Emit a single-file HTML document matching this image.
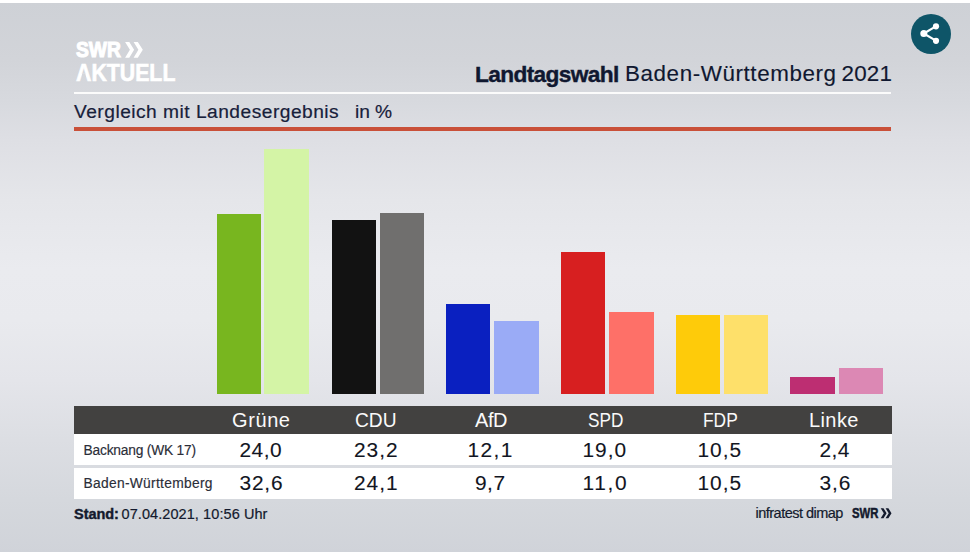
<!DOCTYPE html>
<html><head><meta charset="utf-8">
<style>
*{margin:0;padding:0;box-sizing:border-box}
html,body{width:970px;height:557px;overflow:hidden;background:#fff}
body{position:relative;font-family:"Liberation Sans",sans-serif}
#bg{position:absolute;left:0;top:3px;width:970px;height:549px;
background:linear-gradient(180deg,rgb(206,209,214) 0.0%,rgb(210,212,217) 10.4%,rgb(215,217,222) 17.7%,rgb(222,223,228) 25.0%,rgb(229,230,234) 35.9%,rgb(234,235,239) 48.6%,rgb(233,234,238) 57.7%,rgb(228,229,234) 68.7%,rgb(220,222,227) 79.6%,rgb(213,216,221) 90.5%,rgb(208,211,217) 100.0%)}
.t{position:absolute;white-space:nowrap}
.b,.r{position:absolute}
#wline{left:74px;top:92px;width:817px;height:2px;background:#fbfbfb}
#rline{left:74px;top:127px;width:817px;height:4px;background:#c95039}
#thead{left:74px;top:406px;width:818px;height:28px;background:#424140}
#row1{left:74px;top:434px;width:818px;height:31px;background:#fff}
#row2{left:74px;top:468px;width:818px;height:30.5px;background:#fff}
#share{position:absolute;left:911px;top:14px;width:40px;height:40px;border-radius:50%;background:#0e5568}
</style></head><body>
<div id="bg"></div>
<div class="r" id="wline"></div>
<div class="r" id="rline"></div>
<div class="b" style="left:216.6px;top:213.5px;width:44.6px;height:180.5px;background:#78b61f"></div>
<div class="b" style="left:264.4px;top:149px;width:44.8px;height:245px;background:#d4f4a6"></div>
<div class="b" style="left:331.8px;top:220px;width:43.9px;height:174px;background:#121212"></div>
<div class="b" style="left:380.2px;top:213.3px;width:43.7px;height:180.7px;background:#706f6e"></div>
<div class="b" style="left:445.9px;top:303.5px;width:44.5px;height:90.5px;background:#0a20c0"></div>
<div class="b" style="left:494.4px;top:321.3px;width:44.5px;height:72.7px;background:#9aabf6"></div>
<div class="b" style="left:560.8px;top:251.5px;width:44.5px;height:142.5px;background:#d71f20"></div>
<div class="b" style="left:609.3px;top:311.8px;width:44.5px;height:82.2px;background:#fe7068"></div>
<div class="b" style="left:675.7px;top:315.4px;width:44.3px;height:78.6px;background:#fecb0a"></div>
<div class="b" style="left:724.3px;top:315.4px;width:43.9px;height:78.6px;background:#fee06a"></div>
<div class="b" style="left:790px;top:376.6px;width:44.6px;height:17.4px;background:#bd2e72"></div>
<div class="b" style="left:838.6px;top:368.1px;width:44.1px;height:25.9px;background:#dc88b4"></div>
<div class="r" id="thead"></div>
<div class="r" id="row1"></div>
<div class="r" id="row2"></div>
<svg class="r" id="chev" style="left:0;top:0" width="970" height="557" viewBox="0 0 970 557">
<g fill="#fff">
<polygon points="125.1,41.9 129.3,41.9 134.1,49.8 129.3,57.8 125.1,57.8 129.9,49.8"/>
<polygon points="133.6,41.9 137.8,41.9 142.8,49.8 137.8,57.8 133.6,57.8 138.4,49.8"/>
</g>
<g fill="#131a2d">
<polygon points="880.7,508.2 883.5,508.2 886.6,513.2 883.5,518.2 880.7,518.2 883.8,513.2"/>
<polygon points="885.6,508.2 888.4,508.2 891.5,513.2 888.4,518.2 885.6,518.2 888.7,513.2"/>
</g>
</svg>
<div class="t" id="logo1" style="left:76.00px;top:39.30px;font-size:22px;line-height:22px;letter-spacing:0.000px;color:#ffffff;font-weight:bold;transform:scaleX(0.8745);transform-origin:0 0;-webkit-text-stroke:1.1px #fff;">SWR</div>
<div class="t" id="logo2" style="left:76.00px;top:62.03px;font-size:23.5px;line-height:23.5px;letter-spacing:0.000px;color:#ffffff;font-weight:bold;transform:scaleX(0.9065);transform-origin:0 0;-webkit-text-stroke:0.6px #fff;">AKTUELL</div>
<div class="t" id="t1" style="left:475.00px;top:63.30px;font-size:22.7px;line-height:22.7px;letter-spacing:-0.636px;color:#101830;font-weight:bold;-webkit-text-stroke:0.4px #101830;">Landtagswahl</div>
<div class="t" id="t2" style="left:625.00px;top:63.26px;font-size:22.4px;line-height:22.4px;letter-spacing:0.588px;color:#101830;-webkit-text-stroke:0.15px #101830;">Baden-Württemberg</div>
<div class="t" id="t3" style="left:841.50px;top:63.36px;font-size:22.4px;line-height:22.4px;letter-spacing:0.200px;color:#101830;-webkit-text-stroke:0.15px #101830;">2021</div>
<div class="t" id="s1" style="left:74.00px;top:101.88px;font-size:19.2px;line-height:19.2px;letter-spacing:0.481px;color:#17203a;-webkit-text-stroke:0.2px #17203a;">Vergleich mit Landesergebnis</div>
<div class="t" id="s2" style="left:355.00px;top:101.88px;font-size:19.2px;line-height:19.2px;letter-spacing:-0.067px;color:#17203a;-webkit-text-stroke:0.2px #17203a;">in %</div>
<div class="t" id="h1" style="left:232.00px;top:410.00px;font-size:20px;line-height:20px;letter-spacing:0.600px;color:#fafafa;">Grüne</div>
<div class="t" id="h2" style="left:354.50px;top:410.00px;font-size:20px;line-height:20px;letter-spacing:0.000px;color:#fafafa;transform:scaleX(0.9602);transform-origin:0 0;">CDU</div>
<div class="t" id="h3" style="left:475.00px;top:410.00px;font-size:20px;line-height:20px;letter-spacing:-0.400px;color:#fafafa;">AfD</div>
<div class="t" id="h4" style="left:587.50px;top:410.00px;font-size:20px;line-height:20px;letter-spacing:0.000px;color:#fafafa;transform:scaleX(0.8590);transform-origin:0 0;">SPD</div>
<div class="t" id="h5" style="left:703.00px;top:410.00px;font-size:20px;line-height:20px;letter-spacing:0.000px;color:#fafafa;transform:scaleX(0.8684);transform-origin:0 0;">FDP</div>
<div class="t" id="h6" style="left:809.00px;top:410.00px;font-size:20px;line-height:20px;letter-spacing:0.400px;color:#fafafa;">Linke</div>
<div class="t" id="l1" style="left:83.50px;top:443.87px;font-size:13.8px;line-height:13.8px;letter-spacing:-0.213px;color:#2b2e38;-webkit-text-stroke:0.15px #2b2e38;">Backnang (WK 17)</div>
<div class="t" id="l2" style="left:83.50px;top:477.07px;font-size:13.8px;line-height:13.8px;letter-spacing:0.300px;color:#2b2e38;-webkit-text-stroke:0.15px #2b2e38;">Baden-Württemberg</div>
<div class="t" id="v11" style="left:239.50px;top:439.74px;font-size:20.9px;line-height:20.9px;letter-spacing:0.467px;color:#111522;-webkit-text-stroke:0.1px #111522;">24,0</div>
<div class="t" id="v12" style="left:354.00px;top:439.74px;font-size:20.9px;line-height:20.9px;letter-spacing:1.000px;color:#111522;-webkit-text-stroke:0.1px #111522;">23,2</div>
<div class="t" id="v13" style="left:467.50px;top:439.74px;font-size:20.9px;line-height:20.9px;letter-spacing:1.400px;color:#111522;-webkit-text-stroke:0.1px #111522;">12,1</div>
<div class="t" id="v14" style="left:582.50px;top:439.74px;font-size:20.9px;line-height:20.9px;letter-spacing:1.000px;color:#111522;-webkit-text-stroke:0.1px #111522;">19,0</div>
<div class="t" id="v15" style="left:697.50px;top:439.74px;font-size:20.9px;line-height:20.9px;letter-spacing:1.000px;color:#111522;-webkit-text-stroke:0.1px #111522;">10,5</div>
<div class="t" id="v16" style="left:819.50px;top:439.74px;font-size:20.9px;line-height:20.9px;letter-spacing:0.400px;color:#111522;-webkit-text-stroke:0.1px #111522;">2,4</div>
<div class="t" id="v21" style="left:239.50px;top:473.24px;font-size:20.9px;line-height:20.9px;letter-spacing:0.800px;color:#111522;-webkit-text-stroke:0.1px #111522;">32,6</div>
<div class="t" id="v22" style="left:354.00px;top:473.24px;font-size:20.9px;line-height:20.9px;letter-spacing:1.000px;color:#111522;-webkit-text-stroke:0.1px #111522;">24,1</div>
<div class="t" id="v23" style="left:475.00px;top:473.24px;font-size:20.9px;line-height:20.9px;letter-spacing:0.500px;color:#111522;-webkit-text-stroke:0.1px #111522;">9,7</div>
<div class="t" id="v24" style="left:582.50px;top:473.24px;font-size:20.9px;line-height:20.9px;letter-spacing:1.667px;color:#111522;-webkit-text-stroke:0.1px #111522;">11,0</div>
<div class="t" id="v25" style="left:697.50px;top:473.24px;font-size:20.9px;line-height:20.9px;letter-spacing:1.000px;color:#111522;-webkit-text-stroke:0.1px #111522;">10,5</div>
<div class="t" id="v26" style="left:819.50px;top:473.24px;font-size:20.9px;line-height:20.9px;letter-spacing:0.900px;color:#111522;-webkit-text-stroke:0.1px #111522;">3,6</div>
<div class="t" id="f1" style="left:74.00px;top:506.68px;font-size:14.5px;line-height:14.5px;letter-spacing:-0.040px;color:#131a2d;font-weight:bold;-webkit-text-stroke:0.4px #131a2d;">Stand:</div>
<div class="t" id="f2" style="left:121.50px;top:506.68px;font-size:14.5px;line-height:14.5px;letter-spacing:0.080px;color:#131a2d;-webkit-text-stroke:0.2px #131a2d;">07.04.2021, 10:56 Uhr</div>
<div class="t" id="f3" style="left:755.50px;top:506.28px;font-size:14.5px;line-height:14.5px;letter-spacing:-0.514px;color:#131a2d;-webkit-text-stroke:0.2px #131a2d;">infratest dimap</div>
<div class="t" id="f4" style="left:852.00px;top:506.09px;font-size:14.6px;line-height:14.6px;letter-spacing:0.000px;color:#131a2d;font-weight:bold;transform:scaleX(0.7769);transform-origin:0 0;-webkit-text-stroke:0.5px #131a2d;">SWR</div>
<div class="r" id="acov" style="left:80px;top:73px;width:8px;height:5px;background:linear-gradient(180deg,rgb(206,209,214) 0.0%,rgb(210,212,217) 10.4%,rgb(215,217,222) 17.7%,rgb(222,223,228) 25.0%,rgb(229,230,234) 35.9%,rgb(234,235,239) 48.6%,rgb(233,234,238) 57.7%,rgb(228,229,234) 68.7%,rgb(220,222,227) 79.6%,rgb(213,216,221) 90.5%,rgb(208,211,217) 100.0%);background-size:970px 549px;background-position:-80px -70px;clip-path:polygon(2.3px 0.6px,5.3px 0.6px,6.2px 4px,1.3px 4px)"></div>
<div id="share">
<svg width="40" height="40" viewBox="0 0 40 40">
<g fill="#fff" stroke="#fff" stroke-width="2.1">
<line x1="12.8" y1="19.5" x2="24.8" y2="12.4"/>
<line x1="12.8" y1="19.5" x2="24.8" y2="26.7"/>
<circle cx="12.8" cy="19.5" r="3.5" stroke="none"/>
<circle cx="25" cy="12.3" r="3.1" stroke="none"/>
<circle cx="25" cy="26.8" r="3.1" stroke="none"/>
</g></svg>
</div>
</body></html>
